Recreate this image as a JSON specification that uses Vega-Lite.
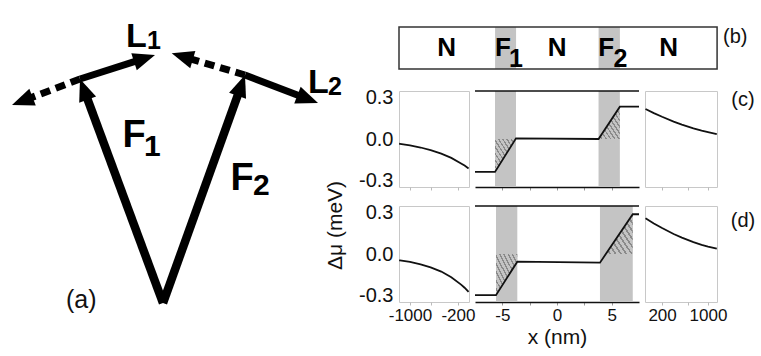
{
  "$schema": "https://vega.github.io/schema/vega-lite/v6.json",
  "padding": 0,
  "bounds": "flush",
  "spacing": 0,
  "config": {
    "view": {"stroke": null},
    "font": "Liberation Sans",
    "axis": {"labelFont": "Liberation Sans", "labelFontSize": 17, "labelColor": "#111", "titleFont": "Liberation Sans", "titleFontSize": 21, "titleFontWeight": "normal", "titleColor": "#111", "grid": false, "labelFlush": false, "labelOverlap": false}
  },
  "datasets": {
    "arrows": [
      {"x": 0, "y": 0, "x2": -7.918, "y2": 21.369, "kind": "F"},
      {"x": 0, "y": 0, "x2": 7.828, "y2": 21.765, "kind": "F"},
      {"x": -8.3, "y": 22.4, "x2": -1.848, "y2": 24.465, "kind": "L"},
      {"x": 8.2, "y": 22.8, "x2": 14.473, "y2": 20.394, "kind": "L"},
      {"x": -8.3, "y": 22.4, "x2": -14.073, "y2": 20.193, "kind": "D"},
      {"x": 8.2, "y": 22.8, "x2": 1.925, "y2": 24.658, "kind": "D"}
    ],
    "labelsA": [
      {"t": "L", "x": -3.7, "y": 25.6, "role": "L"},
      {"t": "1", "x": -1.6, "y": 25.4, "role": "Ls"},
      {"t": "L", "x": 14.5, "y": 21.0, "role": "L"},
      {"t": "2", "x": 16.5, "y": 20.8, "role": "Ls"},
      {"t": "F", "x": -4.05, "y": 15.6, "role": "F"},
      {"t": "1", "x": -1.9, "y": 14.7, "role": "Fs"},
      {"t": "F", "x": 6.75, "y": 11.3, "role": "F"},
      {"t": "2", "x": 9.0, "y": 10.8, "role": "Fs"},
      {"t": "(a)", "x": -9.7, "y": -0.5, "role": "a"}
    ],
    "bBands": [{"x": -5.67, "x2": -3.75}, {"x": 3.8, "x2": 5.75}],
    "bBox": [{"x": -14.46, "x2": 14.64, "y": 0, "y2": 1}],
    "bText": [
      {"t": "N", "x": -10.1, "y": 0.31, "role": "main"},
      {"t": "F", "x": -4.95, "y": 0.31, "role": "main"},
      {"t": "1", "x": -3.75, "y": 0.05, "role": "sub"},
      {"t": "N", "x": 0, "y": 0.31, "role": "main"},
      {"t": "F", "x": 4.5, "y": 0.31, "role": "main"},
      {"t": "2", "x": 5.8, "y": 0.05, "role": "sub"},
      {"t": "N", "x": 10.2, "y": 0.31, "role": "main"},
      {"t": "(b)", "x": 16.3, "y": 0.762, "role": "tag"}
    ],
    "cLeft": [
      {"x": -1440, "v": -0.034}, {"x": -1400, "v": -0.035}, {"x": -1000, "v": -0.046}, {"x": -700, "v": -0.062},
      {"x": -500, "v": -0.081}, {"x": -350, "v": -0.107}, {"x": -250, "v": -0.138}, {"x": -180, "v": -0.178},
      {"x": -160, "v": -0.194}, {"x": -140, "v": -0.215}
    ],
    "dLeft": [
      {"x": -1440, "v": -0.046}, {"x": -1400, "v": -0.047}, {"x": -1000, "v": -0.058}, {"x": -700, "v": -0.075},
      {"x": -500, "v": -0.097}, {"x": -350, "v": -0.128}, {"x": -250, "v": -0.169}, {"x": -180, "v": -0.223},
      {"x": -160, "v": -0.246}, {"x": -140, "v": -0.277}
    ],
    "cRight": [
      {"x": 112, "v": 0.219}, {"x": 150, "v": 0.189}, {"x": 200, "v": 0.162}, {"x": 300, "v": 0.127},
      {"x": 400, "v": 0.105}, {"x": 600, "v": 0.078}, {"x": 800, "v": 0.061}, {"x": 1000, "v": 0.05}, {"x": 1360, "v": 0.036}
    ],
    "dRight": [
      {"x": 112, "v": 0.261}, {"x": 150, "v": 0.223}, {"x": 200, "v": 0.189}, {"x": 300, "v": 0.146},
      {"x": 400, "v": 0.12}, {"x": 600, "v": 0.087}, {"x": 800, "v": 0.067}, {"x": 1000, "v": 0.054}, {"x": 1360, "v": 0.039}
    ],
    "cMid": [
      {"x": -7.5, "v": -0.24}, {"x": -5.67, "v": -0.24}, {"x": -3.75, "v": 0.005},
      {"x": 3.8, "v": 0.0}, {"x": 5.75, "v": 0.236}, {"x": 7.5, "v": 0.236}
    ],
    "dMid": [
      {"x": -7.5, "v": -0.3}, {"x": -5.58, "v": -0.3}, {"x": -3.63, "v": -0.056},
      {"x": 3.93, "v": -0.063}, {"x": 6.93, "v": 0.29}, {"x": 7.5, "v": 0.29}
    ],
    "cBands": [{"x": -5.67, "x2": -3.75}, {"x": 3.8, "x2": 5.75}],
    "dBands": [{"x": -5.58, "x2": -3.63}, {"x": 3.93, "x2": 6.93}],
    "cHatch": [
      {"g": "F1", "x": -5.67, "v": -0.24}, {"g": "F1", "x": -3.75, "v": 0.0},
      {"g": "F2", "x": 3.8, "v": 0.0}, {"g": "F2", "x": 5.75, "v": 0.236}
    ],
    "dHatch": [
      {"g": "F1", "x": -5.58, "v": -0.3}, {"g": "F1", "x": -3.63, "v": -0.056},
      {"g": "F2", "x": 4.465, "v": 0.0}, {"g": "F2", "x": 6.93, "v": 0.29}
    ]
  },
  "hconcat": [
    {
      "width": 399,
      "height": 356,
      "layer": [
        {
          "data": {"name": "arrows"},
          "transform": [{"filter": "datum.kind == 'F'"}],
          "mark": {"type": "rule", "color": "#000", "strokeWidth": 8.5, "strokeCap": "butt"},
          "encoding": {
            "x": {"field": "x", "type": "quantitative", "scale": {"domain": [-16.3, 23.6], "nice": false, "zero": false}, "axis": null},
            "y": {"field": "y", "type": "quantitative", "scale": {"domain": [-5.3, 30.3], "nice": false, "zero": false}, "axis": null},
            "x2": {"field": "x2"}, "y2": {"field": "y2"}
          }
        },
        {
          "data": {"name": "arrows"},
          "transform": [{"filter": "datum.kind == 'L'"}],
          "mark": {"type": "rule", "color": "#000", "strokeWidth": 7, "strokeCap": "butt"},
          "encoding": {
            "x": {"field": "x", "type": "quantitative", "scale": {"domain": [-16.3, 23.6], "nice": false, "zero": false}, "axis": null},
            "y": {"field": "y", "type": "quantitative", "scale": {"domain": [-5.3, 30.3], "nice": false, "zero": false}, "axis": null},
            "x2": {"field": "x2"}, "y2": {"field": "y2"}
          }
        },
        {
          "data": {"name": "arrows"},
          "transform": [{"filter": "datum.kind == 'D'"}],
          "mark": {"type": "rule", "color": "#000", "strokeWidth": 7, "strokeCap": "butt", "strokeDash": [10, 6]},
          "encoding": {
            "x": {"field": "x", "type": "quantitative", "scale": {"domain": [-16.3, 23.6], "nice": false, "zero": false}, "axis": null},
            "y": {"field": "y", "type": "quantitative", "scale": {"domain": [-5.3, 30.3], "nice": false, "zero": false}, "axis": null},
            "x2": {"field": "x2"}, "y2": {"field": "y2"}
          }
        },
        {
          "data": {"name": "arrows"},
          "transform": [{"calculate": "atan2(datum.x2 - datum.x, datum.y2 - datum.y) * 180 / PI", "as": "ang"}],
          "mark": {"type": "point", "shape": "M0,-1.1L-0.9,1.1L0.9,1.1Z", "filled": true, "color": "#000", "size": 400, "opacity": 1, "strokeWidth": 0},
          "encoding": {
            "x": {"field": "x2", "type": "quantitative", "scale": {"domain": [-16.3, 23.6], "nice": false, "zero": false}, "axis": null},
            "y": {"field": "y2", "type": "quantitative", "scale": {"domain": [-5.3, 30.3], "nice": false, "zero": false}, "axis": null},
            "angle": {"field": "ang", "type": "quantitative", "scale": null}
          }
        },
        {
          "data": {"name": "labelsA"},
          "transform": [{"filter": "datum.role == 'F'"}],
          "mark": {"type": "text", "font": "Liberation Sans", "fontWeight": "bold", "fontSize": 38, "align": "left", "baseline": "alphabetic", "color": "#000"},
          "encoding": {
            "x": {"field": "x", "type": "quantitative", "scale": {"domain": [-16.3, 23.6], "nice": false, "zero": false}, "axis": null},
            "y": {"field": "y", "type": "quantitative", "scale": {"domain": [-5.3, 30.3], "nice": false, "zero": false}, "axis": null},
            "text": {"field": "t"}
          }
        },
        {
          "data": {"name": "labelsA"},
          "transform": [{"filter": "datum.role == 'Fs'"}],
          "mark": {"type": "text", "font": "Liberation Sans", "fontWeight": "bold", "fontSize": 30, "align": "left", "baseline": "alphabetic", "color": "#000"},
          "encoding": {
            "x": {"field": "x", "type": "quantitative", "scale": {"domain": [-16.3, 23.6], "nice": false, "zero": false}, "axis": null},
            "y": {"field": "y", "type": "quantitative", "scale": {"domain": [-5.3, 30.3], "nice": false, "zero": false}, "axis": null},
            "text": {"field": "t"}
          }
        },
        {
          "data": {"name": "labelsA"},
          "transform": [{"filter": "datum.role == 'L'"}],
          "mark": {"type": "text", "font": "Liberation Sans", "fontWeight": "bold", "fontSize": 34, "align": "left", "baseline": "alphabetic", "color": "#000"},
          "encoding": {
            "x": {"field": "x", "type": "quantitative", "scale": {"domain": [-16.3, 23.6], "nice": false, "zero": false}, "axis": null},
            "y": {"field": "y", "type": "quantitative", "scale": {"domain": [-5.3, 30.3], "nice": false, "zero": false}, "axis": null},
            "text": {"field": "t"}
          }
        },
        {
          "data": {"name": "labelsA"},
          "transform": [{"filter": "datum.role == 'Ls'"}],
          "mark": {"type": "text", "font": "Liberation Sans", "fontWeight": "bold", "fontSize": 25, "align": "left", "baseline": "alphabetic", "color": "#000"},
          "encoding": {
            "x": {"field": "x", "type": "quantitative", "scale": {"domain": [-16.3, 23.6], "nice": false, "zero": false}, "axis": null},
            "y": {"field": "y", "type": "quantitative", "scale": {"domain": [-5.3, 30.3], "nice": false, "zero": false}, "axis": null},
            "text": {"field": "t"}
          }
        },
        {
          "data": {"name": "labelsA"},
          "transform": [{"filter": "datum.role == 'a'"}],
          "mark": {"type": "text", "font": "Liberation Sans", "fontSize": 25, "align": "left", "baseline": "alphabetic", "color": "#111"},
          "encoding": {
            "x": {"field": "x", "type": "quantitative", "scale": {"domain": [-16.3, 23.6], "nice": false, "zero": false}, "axis": null},
            "y": {"field": "y", "type": "quantitative", "scale": {"domain": [-5.3, 30.3], "nice": false, "zero": false}, "axis": null},
            "text": {"field": "t"}
          }
        }
      ]
    },
    {
      "bounds": "flush",
      "align": "each",
      "columns": 3,
      "spacing": {"row": 19, "column": 6},
      "concat": [
        {
          "width": 70,
          "height": 72,
          "layer": [
            {
              "data": {"name": "bBands"},
              "mark": {"type": "rect", "color": "#c4c4c4"},
              "encoding": {
                "x": {"field": "x", "type": "quantitative", "scale": {"domain": [-14.46, -8.056], "nice": false, "zero": false}, "axis": null},
                "x2": {"field": "x2"},
                "y": {"datum": 0, "type": "quantitative", "scale": {"domain": [-0.0714, 1.6429], "nice": false, "zero": false}, "axis": null},
                "y2": {"datum": 1}
              }
            },
            {
              "data": {"name": "bBox"},
              "mark": {"type": "rect", "fill": "transparent", "stroke": "#333", "strokeWidth": 1.5},
              "encoding": {
                "x": {"field": "x", "type": "quantitative", "scale": {"domain": [-14.46, -8.056], "nice": false, "zero": false}, "axis": null},
                "x2": {"field": "x2"},
                "y": {"field": "y", "type": "quantitative", "scale": {"domain": [-0.0714, 1.6429], "nice": false, "zero": false}, "axis": null},
                "y2": {"field": "y2"}
              }
            },
            {
              "data": {"name": "bText"},
              "transform": [{"filter": "datum.role == 'main'"}],
              "mark": {"type": "text", "font": "Liberation Sans", "fontWeight": "bold", "fontSize": 26, "align": "center", "baseline": "alphabetic", "color": "#000"},
              "encoding": {
                "x": {"field": "x", "type": "quantitative", "scale": {"domain": [-14.46, -8.056], "nice": false, "zero": false}, "axis": null},
                "y": {"field": "y", "type": "quantitative", "scale": {"domain": [-0.0714, 1.6429], "nice": false, "zero": false}, "axis": null},
                "text": {"field": "t"}
              }
            },
            {
              "data": {"name": "bText"},
              "transform": [{"filter": "datum.role == 'sub'"}],
              "mark": {"type": "text", "font": "Liberation Sans", "fontWeight": "bold", "fontSize": 25, "align": "center", "baseline": "alphabetic", "color": "#000"},
              "encoding": {
                "x": {"field": "x", "type": "quantitative", "scale": {"domain": [-14.46, -8.056], "nice": false, "zero": false}, "axis": null},
                "y": {"field": "y", "type": "quantitative", "scale": {"domain": [-0.0714, 1.6429], "nice": false, "zero": false}, "axis": null},
                "text": {"field": "t"}
              }
            },
            {
              "data": {"name": "bText"},
              "transform": [{"filter": "datum.role == 'tag'"}],
              "mark": {"type": "text", "font": "Liberation Sans", "fontSize": 20, "align": "center", "baseline": "middle", "color": "#111"},
              "encoding": {
                "x": {"field": "x", "type": "quantitative", "scale": {"domain": [-14.46, -8.056], "nice": false, "zero": false}, "axis": null},
                "y": {"field": "y", "type": "quantitative", "scale": {"domain": [-0.0714, 1.6429], "nice": false, "zero": false}, "axis": null},
                "text": {"field": "t"}
              }
            }
          ]
        },
        {"width": 164, "height": 72, "data": {"values": []}, "mark": "point"},
        {"width": 72, "height": 72, "data": {"values": []}, "mark": "point"},
        {
          "width": 70, "height": 96,
          "view": {"stroke": "#c8c8c8"},
          "data": {"name": "cLeft"},
          "mark": {"type": "line", "color": "#111", "strokeWidth": 1.8},
          "encoding": {
            "x": {"field": "x", "type": "quantitative", "scale": {"type": "log", "domain": [-1446, -138], "nice": false}, "axis": {"values": [-1000, -500, -200], "labels": false, "domain": false, "tickColor": "#bbb", "tickSize": 3, "title": null}},
            "y": {"field": "v", "type": "quantitative", "scale": {"domain": [-0.35, 0.35], "nice": false, "zero": false}, "axis": {"values": [-0.3, 0, 0.3], "labelExpr": "(datum.value < 0 ? '-' : '') + format(abs(datum.value), '.1f')", "labelFontSize": 20, "domain": false, "ticks": false, "labelPadding": 6, "title": "Δμ (meV)", "titleFontSize": 21, "titleX": -64, "titleY": 134, "titleAngle": -90, "titleAlign": "center", "titleBaseline": "middle"}}
          }
        },
        {
          "width": 164, "height": 96,
          "layer": [
            {
              "data": {"name": "cBands"},
              "mark": {"type": "rect", "color": "#c4c4c4"},
              "encoding": {
                "x": {"field": "x", "type": "quantitative", "scale": {"domain": [-7.5, 7.5], "nice": false, "zero": false}, "axis": {"values": [-5, -2.5, 0, 2.5, 5], "labels": false, "title": null, "domainColor": "#111", "domainWidth": 1.5, "tickColor": "#999", "tickSize": 3}},
                "x2": {"field": "x2"}
              }
            },
            {
              "data": {"name": "cHatch"},
              "mark": {"type": "area", "strokeWidth": 0, "fill": {"gradient": "linear", "x1": 0, "y1": 1, "x2": 1, "y2": 0, "stops": [
                {"offset": 0, "color": "#c4c4c4"}, {"offset": 0.065, "color": "#c4c4c4"}, {"offset": 0.065, "color": "#8a8a8a"}, {"offset": 0.1, "color": "#8a8a8a"},
                {"offset": 0.1, "color": "#c4c4c4"}, {"offset": 0.165, "color": "#c4c4c4"}, {"offset": 0.165, "color": "#8a8a8a"}, {"offset": 0.2, "color": "#8a8a8a"},
                {"offset": 0.2, "color": "#c4c4c4"}, {"offset": 0.265, "color": "#c4c4c4"}, {"offset": 0.265, "color": "#8a8a8a"}, {"offset": 0.3, "color": "#8a8a8a"},
                {"offset": 0.3, "color": "#c4c4c4"}, {"offset": 0.365, "color": "#c4c4c4"}, {"offset": 0.365, "color": "#8a8a8a"}, {"offset": 0.4, "color": "#8a8a8a"},
                {"offset": 0.4, "color": "#c4c4c4"}, {"offset": 0.465, "color": "#c4c4c4"}, {"offset": 0.465, "color": "#8a8a8a"}, {"offset": 0.5, "color": "#8a8a8a"},
                {"offset": 0.5, "color": "#c4c4c4"}, {"offset": 0.565, "color": "#c4c4c4"}, {"offset": 0.565, "color": "#8a8a8a"}, {"offset": 0.6, "color": "#8a8a8a"},
                {"offset": 0.6, "color": "#c4c4c4"}, {"offset": 0.665, "color": "#c4c4c4"}, {"offset": 0.665, "color": "#8a8a8a"}, {"offset": 0.7, "color": "#8a8a8a"},
                {"offset": 0.7, "color": "#c4c4c4"}, {"offset": 0.765, "color": "#c4c4c4"}, {"offset": 0.765, "color": "#8a8a8a"}, {"offset": 0.8, "color": "#8a8a8a"},
                {"offset": 0.8, "color": "#c4c4c4"}, {"offset": 0.865, "color": "#c4c4c4"}, {"offset": 0.865, "color": "#8a8a8a"}, {"offset": 0.9, "color": "#8a8a8a"},
                {"offset": 0.9, "color": "#c4c4c4"}, {"offset": 0.965, "color": "#c4c4c4"}, {"offset": 0.965, "color": "#8a8a8a"}, {"offset": 1, "color": "#8a8a8a"}
              ]}},
              "encoding": {
                "x": {"field": "x", "type": "quantitative", "scale": {"domain": [-7.5, 7.5], "nice": false, "zero": false}, "axis": {"values": [-5, -2.5, 0, 2.5, 5], "labels": false, "title": null, "domainColor": "#111", "domainWidth": 1.5, "tickColor": "#999", "tickSize": 3}},
                "y": {"field": "v", "type": "quantitative", "scale": {"domain": [-0.35, 0.35], "nice": false, "zero": false}, "axis": null},
                "y2": {"datum": 0},
                "detail": {"field": "g", "type": "nominal"}
              }
            },
            {
              "data": {"name": "cMid"},
              "mark": {"type": "line", "color": "#111", "strokeWidth": 1.8},
              "encoding": {
                "x": {"field": "x", "type": "quantitative", "scale": {"domain": [-7.5, 7.5], "nice": false, "zero": false}, "axis": {"values": [-5, -2.5, 0, 2.5, 5], "labels": false, "title": null, "domainColor": "#111", "domainWidth": 1.5, "tickColor": "#999", "tickSize": 3}},
                "y": {"field": "v", "type": "quantitative", "scale": {"domain": [-0.35, 0.35], "nice": false, "zero": false}, "axis": null}
              }
            },
            {
              "data": {"values": [{"v": 0.35}]},
              "mark": {"type": "rule", "color": "#111", "strokeWidth": 1.5},
              "encoding": {
                "y": {"field": "v", "type": "quantitative", "scale": {"domain": [-0.35, 0.35], "nice": false, "zero": false}, "axis": null}
              }
            }
          ]
        },
        {
          "width": 72, "height": 96,
          "view": {"stroke": "#c8c8c8"},
          "layer": [
            {
              "data": {"name": "cRight"},
              "mark": {"type": "line", "color": "#111", "strokeWidth": 1.8},
              "encoding": {
                "x": {"field": "x", "type": "quantitative", "scale": {"type": "log", "domain": [110, 1370], "nice": false}, "axis": {"values": [200, 500, 1000], "labels": false, "domain": false, "tickColor": "#bbb", "tickSize": 3, "title": null}},
                "y": {"field": "v", "type": "quantitative", "scale": {"domain": [-0.35, 0.35], "nice": false, "zero": false}, "axis": null}
              }
            },
            {
              "data": {"values": [{"x": 3400, "v": 0.284, "t": "(c)"}]},
              "mark": {"type": "text", "font": "Liberation Sans", "fontSize": 20, "align": "center", "baseline": "middle", "color": "#111"},
              "encoding": {
                "x": {"field": "x", "type": "quantitative", "scale": {"type": "log", "domain": [110, 1370], "nice": false}, "axis": {"values": [200, 500, 1000], "labels": false, "domain": false, "tickColor": "#bbb", "tickSize": 3, "title": null}},
                "y": {"field": "v", "type": "quantitative", "scale": {"domain": [-0.35, 0.35], "nice": false, "zero": false}, "axis": null},
                "text": {"field": "t"}
              }
            }
          ]
        },
        {
          "width": 70, "height": 96,
          "view": {"stroke": "#c8c8c8"},
          "data": {"name": "dLeft"},
          "mark": {"type": "line", "color": "#111", "strokeWidth": 1.8},
          "encoding": {
            "x": {"field": "x", "type": "quantitative", "scale": {"type": "log", "domain": [-1446, -138], "nice": false}, "axis": {"values": [-1000, -500, -200], "labelExpr": "datum.value == -500 ? '' : '-' + abs(datum.value)", "domain": false, "tickColor": "#bbb", "tickSize": 3, "labelPadding": 2, "title": null}},
            "y": {"field": "v", "type": "quantitative", "scale": {"domain": [-0.35, 0.35], "nice": false, "zero": false}, "axis": {"values": [-0.3, 0, 0.3], "labelExpr": "(datum.value < 0 ? '-' : '') + format(abs(datum.value), '.1f')", "labelFontSize": 20, "domain": false, "ticks": false, "labelPadding": 6, "title": null}}
          }
        },
        {
          "width": 164, "height": 96,
          "layer": [
            {
              "data": {"name": "dBands"},
              "mark": {"type": "rect", "color": "#c4c4c4"},
              "encoding": {
                "x": {"field": "x", "type": "quantitative", "scale": {"domain": [-7.5, 7.5], "nice": false, "zero": false}, "axis": {"values": [-5, -2.5, 0, 2.5, 5], "labelExpr": "datum.value % 5 == 0 ? (datum.value < 0 ? '-' : '') + abs(datum.value) : ''", "title": "x (nm)", "domainColor": "#111", "domainWidth": 1.5, "tickColor": "#999", "tickSize": 3, "labelPadding": 2, "titlePadding": 3}},
                "x2": {"field": "x2"}
              }
            },
            {
              "data": {"name": "dHatch"},
              "mark": {"type": "area", "strokeWidth": 0, "fill": {"gradient": "linear", "x1": 0, "y1": 1, "x2": 1, "y2": 0, "stops": [
                {"offset": 0, "color": "#c4c4c4"}, {"offset": 0.065, "color": "#c4c4c4"}, {"offset": 0.065, "color": "#8a8a8a"}, {"offset": 0.1, "color": "#8a8a8a"},
                {"offset": 0.1, "color": "#c4c4c4"}, {"offset": 0.165, "color": "#c4c4c4"}, {"offset": 0.165, "color": "#8a8a8a"}, {"offset": 0.2, "color": "#8a8a8a"},
                {"offset": 0.2, "color": "#c4c4c4"}, {"offset": 0.265, "color": "#c4c4c4"}, {"offset": 0.265, "color": "#8a8a8a"}, {"offset": 0.3, "color": "#8a8a8a"},
                {"offset": 0.3, "color": "#c4c4c4"}, {"offset": 0.365, "color": "#c4c4c4"}, {"offset": 0.365, "color": "#8a8a8a"}, {"offset": 0.4, "color": "#8a8a8a"},
                {"offset": 0.4, "color": "#c4c4c4"}, {"offset": 0.465, "color": "#c4c4c4"}, {"offset": 0.465, "color": "#8a8a8a"}, {"offset": 0.5, "color": "#8a8a8a"},
                {"offset": 0.5, "color": "#c4c4c4"}, {"offset": 0.565, "color": "#c4c4c4"}, {"offset": 0.565, "color": "#8a8a8a"}, {"offset": 0.6, "color": "#8a8a8a"},
                {"offset": 0.6, "color": "#c4c4c4"}, {"offset": 0.665, "color": "#c4c4c4"}, {"offset": 0.665, "color": "#8a8a8a"}, {"offset": 0.7, "color": "#8a8a8a"},
                {"offset": 0.7, "color": "#c4c4c4"}, {"offset": 0.765, "color": "#c4c4c4"}, {"offset": 0.765, "color": "#8a8a8a"}, {"offset": 0.8, "color": "#8a8a8a"},
                {"offset": 0.8, "color": "#c4c4c4"}, {"offset": 0.865, "color": "#c4c4c4"}, {"offset": 0.865, "color": "#8a8a8a"}, {"offset": 0.9, "color": "#8a8a8a"},
                {"offset": 0.9, "color": "#c4c4c4"}, {"offset": 0.965, "color": "#c4c4c4"}, {"offset": 0.965, "color": "#8a8a8a"}, {"offset": 1, "color": "#8a8a8a"}
              ]}},
              "encoding": {
                "x": {"field": "x", "type": "quantitative", "scale": {"domain": [-7.5, 7.5], "nice": false, "zero": false}, "axis": {"values": [-5, -2.5, 0, 2.5, 5], "labelExpr": "datum.value % 5 == 0 ? (datum.value < 0 ? '-' : '') + abs(datum.value) : ''", "title": "x (nm)", "domainColor": "#111", "domainWidth": 1.5, "tickColor": "#999", "tickSize": 3, "labelPadding": 2, "titlePadding": 3}},
                "y": {"field": "v", "type": "quantitative", "scale": {"domain": [-0.35, 0.35], "nice": false, "zero": false}, "axis": null},
                "y2": {"datum": 0},
                "detail": {"field": "g", "type": "nominal"}
              }
            },
            {
              "data": {"name": "dMid"},
              "mark": {"type": "line", "color": "#111", "strokeWidth": 1.8},
              "encoding": {
                "x": {"field": "x", "type": "quantitative", "scale": {"domain": [-7.5, 7.5], "nice": false, "zero": false}, "axis": {"values": [-5, -2.5, 0, 2.5, 5], "labelExpr": "datum.value % 5 == 0 ? (datum.value < 0 ? '-' : '') + abs(datum.value) : ''", "title": "x (nm)", "domainColor": "#111", "domainWidth": 1.5, "tickColor": "#999", "tickSize": 3, "labelPadding": 2, "titlePadding": 3}},
                "y": {"field": "v", "type": "quantitative", "scale": {"domain": [-0.35, 0.35], "nice": false, "zero": false}, "axis": null}
              }
            },
            {
              "data": {"values": [{"v": 0.35}]},
              "mark": {"type": "rule", "color": "#111", "strokeWidth": 1.5},
              "encoding": {
                "y": {"field": "v", "type": "quantitative", "scale": {"domain": [-0.35, 0.35], "nice": false, "zero": false}, "axis": null}
              }
            }
          ]
        },
        {
          "width": 72, "height": 96,
          "view": {"stroke": "#c8c8c8"},
          "layer": [
            {
              "data": {"name": "dRight"},
              "mark": {"type": "line", "color": "#111", "strokeWidth": 1.8},
              "encoding": {
                "x": {"field": "x", "type": "quantitative", "scale": {"type": "log", "domain": [110, 1370], "nice": false}, "axis": {"values": [200, 500, 1000], "labelExpr": "datum.value == 500 ? '' : '' + datum.value", "domain": false, "tickColor": "#bbb", "tickSize": 3, "labelPadding": 2, "title": null}},
                "y": {"field": "v", "type": "quantitative", "scale": {"domain": [-0.35, 0.35], "nice": false, "zero": false}, "axis": null}
              }
            },
            {
              "data": {"values": [{"x": 3400, "v": 0.24, "t": "(d)"}]},
              "mark": {"type": "text", "font": "Liberation Sans", "fontSize": 20, "align": "center", "baseline": "middle", "color": "#111"},
              "encoding": {
                "x": {"field": "x", "type": "quantitative", "scale": {"type": "log", "domain": [110, 1370], "nice": false}, "axis": {"values": [200, 500, 1000], "labelExpr": "datum.value == 500 ? '' : '' + datum.value", "domain": false, "tickColor": "#bbb", "tickSize": 3, "labelPadding": 2, "title": null}},
                "y": {"field": "v", "type": "quantitative", "scale": {"domain": [-0.35, 0.35], "nice": false, "zero": false}, "axis": null},
                "text": {"field": "t"}
              }
            }
          ]
        }
      ]
    }
  ]
}
